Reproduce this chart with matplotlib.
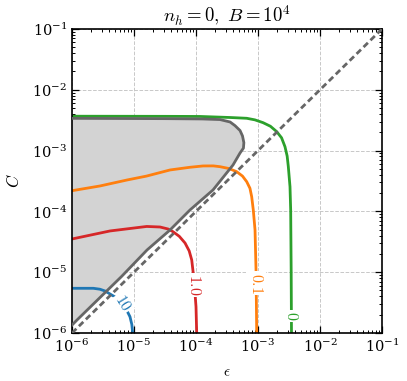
import numpy as np
import matplotlib
matplotlib.use('Agg')
import matplotlib.pyplot as plt

plt.rcParams['mathtext.fontset'] = 'cm'
plt.rcParams['font.family'] = 'serif'
plt.rcParams['font.serif'] = ['DejaVu Serif']

# curves, stored as log10(eps), log10(C)
green_x = [-6.0, -4.5, -3.935, -3.452, -3.182, -3.05, -2.919, -2.8, -2.698, -2.62, -2.565,
           -2.53, -2.511, -2.484, -2.473, -2.465, -2.46]
green_y = [-2.435, -2.437, -2.439, -2.456, -2.469, -2.495, -2.541, -2.6, -2.689, -2.79, -2.936,
           -3.09, -3.265, -3.594, -3.977, -5.0, -6.0]

orange_x = [-6.0, -5.548, -5.113, -4.8, -4.419, -4.1, -3.887, -3.72, -3.613, -3.47, -3.344,
            -3.25, -3.182, -3.13, -3.102, -3.076, -3.048, -3.032, -3.021]
orange_y = [-3.66, -3.582, -3.484, -3.42, -3.319, -3.275, -3.253, -3.252, -3.265, -3.295, -3.347,
            -3.42, -3.512, -3.62, -3.758, -3.977, -4.306, -4.964, -6.0]

red_x = [-6.0, -5.387, -4.795, -4.58, -4.45, -4.371, -4.27, -4.177, -4.11, -4.069, -4.032, -4.0, -3.989]
red_y = [-4.454, -4.322, -4.248, -4.257, -4.29, -4.334, -4.41, -4.52, -4.65, -4.799, -5.128, -5.567, -6.0]

blue_x = [-6.0, -5.656, -5.55, -5.468, -5.306, -5.161, -5.065, -5.035, -5.021]
blue_y = [-5.265, -5.265, -5.28, -5.309, -5.408, -5.539, -5.732, -5.86, -6.0]

gray_x = [-6.0, -4.5, -3.9, -3.613, -3.45, -3.371, -3.29, -3.25, -3.228, -3.235, -3.29,
          -3.403, -3.726, -4.097, -4.419, -4.79, -5.2, -5.919, -6.0]
gray_y = [-2.47, -2.475, -2.48, -2.49, -2.53, -2.59, -2.67, -2.76, -2.87, -2.96, -3.04,
          -3.237, -3.648, -3.977, -4.306, -4.635, -5.07, -5.786, -5.87]

diag = [-6.0, -1.0]

# contour labels: text, log10 position, rotation
labels = [('$10$', -5.17, -5.5, -58, '#1f77b4'),
          ('$1.0$', -4.02, -5.21, -90, '#d62728'),
          ('$0.1$', -3.03, -5.18, -90, '#ff7f0e'),
          ('$0$', -2.465, -5.72, -90, '#2ca02c')]

def v(a):
    return 10.0 ** np.asarray(a)

fig = plt.figure(figsize=(4.07, 3.81), dpi=100)
ax = fig.add_axes([0.1769, 0.126, 0.7617, 0.798])

LW = 2.0
ax.fill(v(gray_x), v(gray_y), color='#d3d3d3', zorder=1, linewidth=0)
ax.plot(v(gray_x), v(gray_y), color='#666666', lw=LW, zorder=3)
ax.plot(v(diag), v(diag), color='#666666', lw=LW, ls=(0, (2.2, 1.3)), zorder=3)

ax.plot(v(blue_x), v(blue_y), color='#1f77b4', lw=LW, zorder=2)
ax.plot(v(red_x), v(red_y), color='#d62728', lw=LW, zorder=2)
ax.plot(v(orange_x), v(orange_y), color='#ff7f0e', lw=LW, zorder=2)
ax.plot(v(green_x), v(green_y), color='#2ca02c', lw=LW, zorder=2)

for txt, lx, ly, rot, col in labels:
    ax.text(10 ** lx, 10 ** ly, txt, color=col, fontsize=11.5, rotation=rot,
            ha='center', va='center', rotation_mode='anchor', zorder=4,
            bbox=dict(boxstyle='square,pad=0.08', fc='white', ec='none'))

ax.set_xscale('log')
ax.set_yscale('log')
ax.set_xlim(1e-6, 1e-1)
ax.set_ylim(1e-6, 1e-1)

ax.grid(True, which='major', ls='--', color='#c8c8c8', lw=0.7)
ax.set_axisbelow(True)
ax.tick_params(which='both', direction='in', top=True, right=True, labelsize=10.5)
ax.tick_params(which='major', length=5, width=0.9)
ax.tick_params(which='minor', length=2.5, width=0.7)
for sp in ax.spines.values():
    sp.set_linewidth(1.2)

ax.set_xlabel(r'$\epsilon$', fontsize=11, labelpad=7)
ax.set_ylabel(r'$C$', fontsize=12, labelpad=6)
ax.set_title(r'$n_h = 0,\ B = 10^4$', fontsize=13.5, pad=5)

fig.savefig('out.png', dpi=100)
